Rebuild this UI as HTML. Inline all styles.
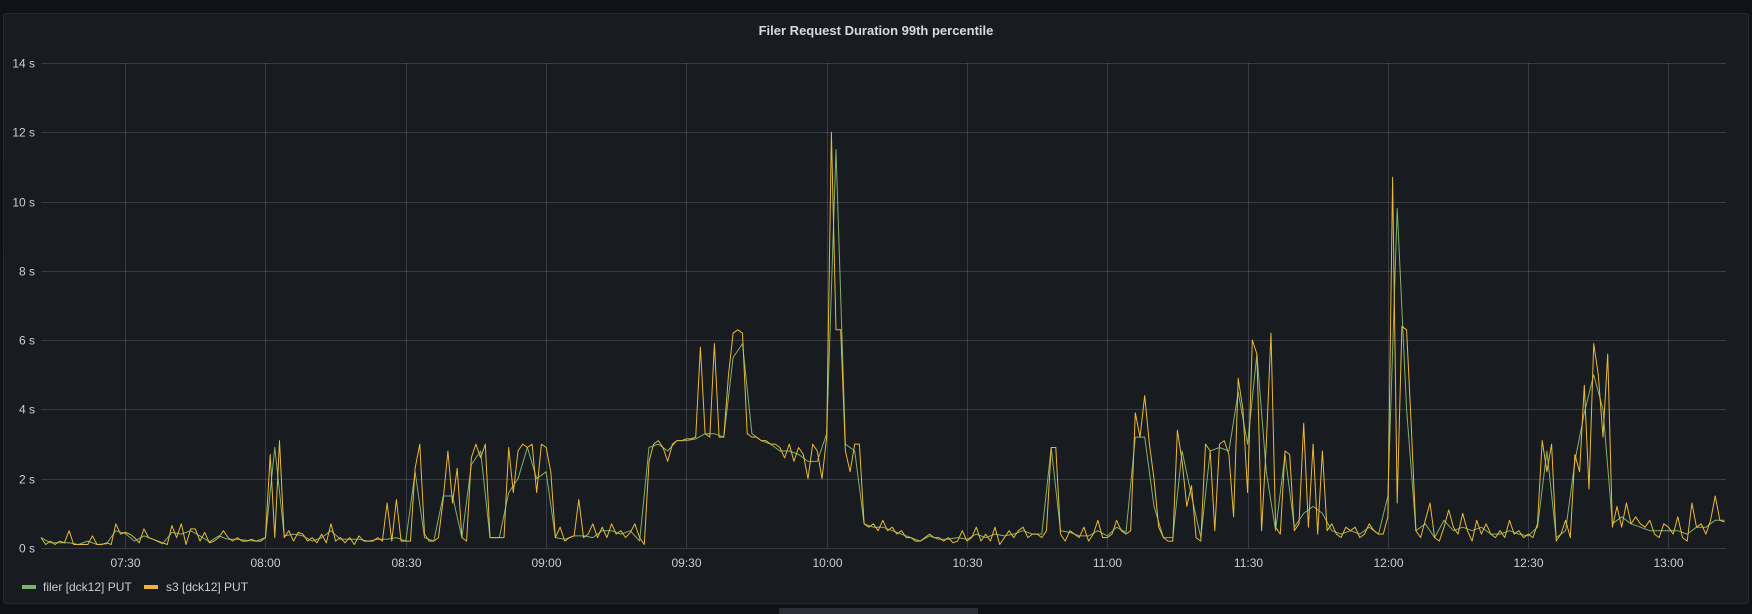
<!DOCTYPE html>
<html><head><meta charset="utf-8"><style>
html,body{margin:0;padding:0;background:#111217;width:1752px;height:614px;overflow:hidden}
svg{display:block;font-family:"Liberation Sans",sans-serif}
</style></head><body>
<svg id="chart" width="1752" height="614">
<rect x="0" y="0" width="1752" height="614" fill="#111217"/>
<rect x="3.5" y="13.5" width="1745" height="590" rx="3" fill="#181b1f" stroke="#25282e"/>
<text x="876" y="35" fill="#d8d9e0" font-size="13" font-weight="bold" text-anchor="middle">Filer Request Duration 99th percentile</text>
<g id="grid"></g>
<g id="yticks"></g>
<g id="xticks"></g>
<g id="series"></g>
<g>
<g><rect x="22" y="585" width="14" height="4" fill="#7eb26d"/><text x="43" y="591" fill="#ccccdc" font-size="12">filer [dck12] PUT</text></g>
<g><rect x="144" y="585" width="14" height="4" fill="#eab839"/><text x="166" y="591" fill="#ccccdc" font-size="12">s3 [dck12] PUT</text></g>
</g>
<rect x="779" y="608" width="199" height="6" fill="#2a2d35"/>
</svg>
<script>
const yTicks=[0,2,4,6,8,10,12,14];
const yTickLabels=["0 s","2 s","4 s","6 s","8 s","10 s","12 s","14 s"];
const xTickMinutes=[18,48,78,108,138,168,198,228,258,288,318,348];
const xTickLabels=["07:30","08:00","08:30","09:00","09:30","10:00","10:30","11:00","11:30","12:00","12:30","13:00"];
// s3: 1-minute samples from 07:12
const s3Values=[0.3,0.1,0.2,0.1,0.2,0.15,0.5,0.1,0.1,0.1,0.1,0.35,
0.1,0.1,0.15,0.1,0.7,0.4,0.45,0.4,0.3,0.15,0.55,0.3,
0.25,0.2,0.15,0.1,0.65,0.3,0.7,0.1,0.55,0.55,0.2,0.45,
0.15,0.2,0.3,0.5,0.3,0.2,0.3,0.2,0.2,0.25,0.2,0.2,
0.3,2.7,0.3,3.1,0.3,0.5,0.2,0.45,0.4,0.2,0.3,0.15,
0.4,0.15,0.7,0.2,0.3,0.15,0.3,0.1,0.35,0.2,0.2,0.2,
0.3,0.2,1.3,0.2,1.4,0.2,0.2,0.2,2.3,3.0,0.4,0.2,
0.2,0.3,1.4,2.8,1.3,2.3,0.3,0.2,2.6,3.0,2.6,3.0,
0.3,0.3,0.3,0.3,2.9,1.6,2.8,3.0,2.9,3.0,1.6,3.0,
2.9,2.2,0.3,0.6,0.2,0.3,0.35,1.4,0.3,0.4,0.7,0.3,
0.6,0.3,0.7,0.4,0.5,0.3,0.45,0.7,0.3,0.1,2.5,3.0,
3.1,2.9,2.5,3.0,3.1,3.1,3.15,3.15,3.2,5.8,3.3,3.2,
5.9,3.2,3.2,5.0,6.2,6.3,6.2,3.3,3.2,3.2,3.1,3.1,
3.0,3.0,2.9,2.6,3.0,2.5,2.9,2.7,2.0,3.0,2.8,2.0,
3.2,12.0,6.3,6.3,2.8,2.2,3.0,3.0,0.7,0.6,0.7,0.5,
0.8,0.5,0.6,0.4,0.5,0.3,0.3,0.2,0.2,0.3,0.4,0.3,
0.3,0.2,0.3,0.15,0.2,0.5,0.2,0.3,0.6,0.2,0.4,0.2,
0.6,0.1,0.3,0.5,0.3,0.5,0.6,0.3,0.4,0.4,0.3,0.5,
2.9,2.9,0.4,0.2,0.5,0.4,0.3,0.6,0.2,0.4,0.8,0.3,
0.3,0.4,0.8,0.5,0.4,0.5,3.9,3.2,4.4,3.0,2.0,0.6,
0.3,0.2,0.2,3.4,2.5,1.2,1.8,0.3,0.2,3.0,2.8,0.5,
3.0,3.1,2.7,0.9,4.9,4.0,1.6,6.0,5.6,0.5,3.0,6.2,
0.6,0.4,2.8,2.7,0.5,0.7,3.6,0.6,3.0,0.4,2.8,0.5,
0.7,0.4,0.3,0.6,0.5,0.6,0.3,0.4,0.7,0.5,0.4,0.4,
0.9,10.7,1.3,6.4,6.3,3.5,0.5,0.3,0.8,1.3,0.3,0.2,
0.6,1.1,0.6,0.4,1.0,0.5,0.2,0.8,0.4,0.7,0.4,0.3,
0.5,0.3,0.8,0.4,0.5,0.3,0.4,0.3,0.7,3.1,2.2,3.0,
0.2,0.4,0.8,0.3,2.7,2.2,4.7,1.7,5.9,5.0,3.2,5.6,
0.6,1.2,0.6,1.3,0.7,0.9,0.7,0.6,0.8,0.4,0.3,0.7,
0.6,0.4,0.9,0.3,0.2,1.3,0.6,0.7,0.4,0.8,1.5,0.8,
0.75];
// filer: 2-minute samples from 07:12
const filerValues=[0.3,0.15,0.15,0.15,0.1,0.2,
0.1,0.12,0.5,0.42,0.2,0.35,
0.25,0.12,0.45,0.4,0.5,0.35,
0.18,0.35,0.25,0.25,0.22,0.2,
0.3,2.9,0.35,0.4,0.35,0.2,
0.3,0.5,0.25,0.25,0.25,0.2,
0.25,0.25,0.3,0.2,2.2,0.3,
0.2,1.5,1.5,0.3,2.4,2.8,
0.3,0.3,1.6,2.0,2.9,2.0,
2.2,0.3,0.25,0.35,0.35,0.3,
0.5,0.5,0.4,0.5,0.2,2.9,
3.0,2.8,3.1,3.1,3.15,3.3,
3.3,3.2,5.5,5.9,3.3,3.1,
3.0,2.8,2.8,2.7,2.5,2.5,
3.3,11.5,3.0,2.8,0.7,0.6,
0.6,0.5,0.4,0.3,0.2,0.35,
0.25,0.25,0.3,0.25,0.4,0.3,
0.4,0.35,0.4,0.5,0.4,0.4,
2.9,0.5,0.45,0.35,0.35,0.5,
0.35,0.6,0.45,3.2,3.2,1.2,
0.3,0.3,2.8,1.5,0.3,2.8,
2.9,2.8,4.5,3.0,5.6,2.2,
0.5,2.7,0.6,1.0,1.2,1.0,
0.5,0.4,0.5,0.4,0.6,0.4,
1.5,9.8,4.0,0.5,0.7,0.3,
0.8,0.5,0.6,0.5,0.6,0.4,
0.4,0.5,0.4,0.35,0.6,2.8,
0.3,0.5,2.5,3.9,5.0,4.0,
0.7,0.9,0.7,0.6,0.5,0.5,
0.5,0.5,0.4,0.6,0.6,0.8,
0.8];

const NS="http://www.w3.org/2000/svg";
const L=41,R=1726,T=63,B=548;
const minPerPx=30/140.3;
const xScale=m=>L+m/minPerPx;
const yScale=v=>B-(v/14)*(B-T);
function mk(tag,attrs,parent){const e=document.createElementNS(NS,tag);for(const k in attrs)e.setAttribute(k,attrs[k]);parent.appendChild(e);return e;}
const grid=document.getElementById('grid'),yg=document.getElementById('yticks'),xg=document.getElementById('xticks'),sg=document.getElementById('series');
yTicks.forEach((v,i)=>{
  const y=Math.round(yScale(v))+0.5;
  const ln=mk('line',{x1:L,x2:R,y1:y,y2:y,stroke:'rgba(204,204,220,0.18)','stroke-width':1},grid);
  
  
  const t=mk('text',{x:35,y:y+4,fill:'#ccccdc','font-size':12,'text-anchor':'end'},yg);
  t.textContent=yTickLabels[i];
  
  
});
xTickMinutes.forEach((m,i)=>{
  const x=Math.round(xScale(m))+0.5;
  const ln=mk('line',{x1:x,x2:x,y1:T,y2:B,stroke:'rgba(204,204,220,0.18)','stroke-width':1},grid);
  
  
  const t=mk('text',{x:x,y:567,fill:'#ccccdc','font-size':12,'text-anchor':'middle'},xg);
  t.textContent=xTickLabels[i];
  
  
});
function line(vals,step,color,name){
  const d=vals.map((v,i)=>(i?'L':'M')+xScale(i*step).toFixed(1)+' '+yScale(v).toFixed(1)).join(' ');
  const p=mk('path',{d:d,fill:'none',stroke:color,'stroke-width':1,'stroke-linejoin':'round'},sg);
  
  
}
line(filerValues,2,'#7eb26d','filer-series-line');
line(s3Values,1,'#eab839','s3-series-line');
</script>
</body></html>
